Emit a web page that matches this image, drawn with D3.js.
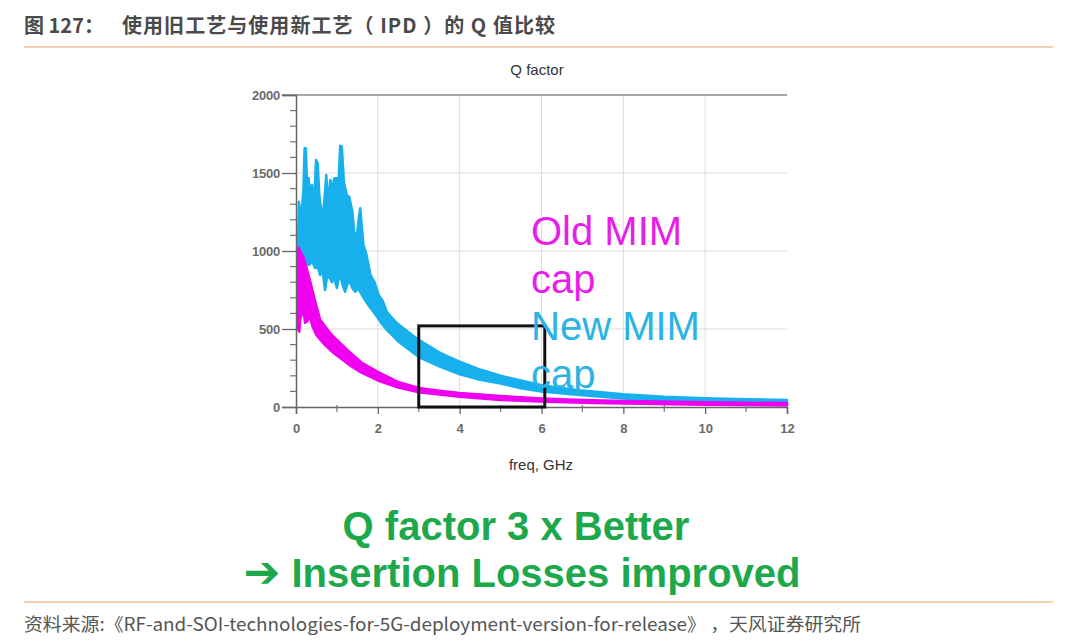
<!DOCTYPE html>
<html>
<head>
<meta charset="utf-8">
<script src="https://cdn.jsdelivr.net/npm/d3@7"></script>
<style>
  html, body { margin: 0; padding: 0; background: #ffffff; }
  svg { display: block; }
</style>
</head>
<body>
<div id="chart"></div>
<script>
// ── Data ───────────────────────────────────────────────────────────────────────

const xTicks = [0, 2, 4, 6, 8, 10, 12];
const yTicks = [0, 500, 1000, 1500, 2000];

// New MIM cap (cyan) – noisy band as [GHz, Q] envelope points
const newUpper = [
  [0.05, 1000], [0.07, 1316], [0.12, 1200], [0.18, 1380], [0.21, 1658], [0.24, 1658],
  [0.27, 1420], [0.31, 1466], [0.35, 1330], [0.39, 1423], [0.44, 1300], [0.49, 1583],
  [0.53, 1560], [0.57, 1359], [0.62, 1250], [0.66, 1231], [0.70, 1350], [0.74, 1487],
  [0.79, 1300], [0.84, 1455], [0.88, 1400], [0.94, 1466], [1.00, 1466], [1.04, 1440],
  [1.08, 1675], [1.12, 1670], [1.17, 1444], [1.24, 1359], [1.30, 1348], [1.34, 1300],
  [1.38, 1250], [1.42, 1124], [1.48, 1080], [1.53, 1200], [1.57, 1274], [1.61, 1150],
  [1.65, 1038], [1.72, 980], [1.82, 846], [1.92, 800], [2.02, 718], [2.12, 680],
  [2.22, 611], [2.35, 570], [2.5, 530], [2.65, 500], [2.8, 470], [3.0, 430],
  [3.25, 390], [3.5, 350], [3.75, 320], [4, 290], [4.5, 240], [5, 200], [5.5, 170],
  [6, 140], [7, 105], [8, 82], [9, 66], [10, 56], [11, 50], [12, 45]
];
const newLower = [
  [0.05, 1000], [0.1, 1000], [0.2, 940], [0.31, 910], [0.4, 930], [0.47, 890],
  [0.53, 900], [0.59, 846], [0.65, 870], [0.71, 750], [0.76, 840], [0.82, 827],
  [0.88, 800], [0.92, 835], [1.0, 763], [1.04, 820], [1.08, 846], [1.14, 780],
  [1.2, 739], [1.26, 790], [1.32, 803], [1.38, 760], [1.45, 739], [1.52, 760],
  [1.61, 718], [1.7, 680], [1.82, 634], [1.95, 590], [2.06, 547], [2.2, 500],
  [2.3, 474], [2.5, 420], [2.8, 360], [3.0, 320], [3.5, 260], [4, 210], [4.5, 175],
  [5, 150], [5.5, 120], [6, 100], [7, 75], [8, 55], [9, 40], [10, 30], [11, 22], [12, 15]
];

// Old MIM cap (magenta)
const oldUpper = [
  [0.05, 1000], [0.07, 1019], [0.12, 990], [0.19, 955], [0.27, 880], [0.35, 803],
  [0.47, 675], [0.59, 560], [0.76, 500], [0.9, 455], [1.0, 430], [1.3, 355],
  [1.6, 285], [2.0, 226], [2.5, 160], [3.0, 122], [3.5, 105], [4, 90], [5, 70],
  [6, 55], [7, 45], [8, 38], [10, 30], [12, 25]
];
const oldLower = [
  [0.05, 500], [0.08, 483], [0.1, 560], [0.15, 600], [0.19, 610], [0.22, 540],
  [0.28, 550], [0.33, 590], [0.4, 520], [0.5, 460], [0.7, 400], [0.9, 350],
  [1.0, 330], [1.3, 270], [1.6, 220], [2.0, 170], [2.5, 125], [3.0, 95], [4, 65],
  [5, 45], [6, 35], [7, 28], [8, 22], [10, 15], [12, 10]
];

// highlight box (GHz / Q)
const boxX = [3.0, 6.08];
const boxY = [0, 520];

const labels = [
  { text: "Old MIM", color: "#e81ee8" },
  { text: "cap",     color: "#e81ee8" },
  { text: "New MIM", color: "#2bb3e3" },
  { text: "cap",     color: "#2bb3e3" }
];

// ── Layout ─────────────────────────────────────────────────────────────────────

const W = 1080, H = 643;
const plot = { left: 296, right: 787, top: 95, bottom: 407 };

const svg = d3.select("#chart").append("svg")
  .attr("width", W).attr("height", H)
  .attr("viewBox", `0 0 ${W} ${H}`);

const x = d3.scaleLinear().domain([0, 12]).range([plot.left, plot.right]);
const y = d3.scaleLinear().domain([0, 2000]).range([plot.bottom, plot.top]);

const CJK = "'Noto Sans CJK SC', 'Noto Sans', sans-serif";
const ARIAL = "'Liberation Sans', Arial, sans-serif";

// ── Header / footer ────────────────────────────────────────────────────────────

const header = svg.append("text")
  .attr("y", 33)
  .attr("font-family", CJK).attr("font-weight", 700).attr("font-size", 20)
  .attr("fill", "#4a4a4a");
header.append("tspan").attr("x", 24).text("图 127：");
header.append("tspan").attr("x", 122)
  .attr("textLength", 433).attr("lengthAdjust", "spacing")
  .text("使用旧工艺与使用新工艺（ IPD ）的 Q 值比较");

svg.append("line")
  .attr("x1", 24).attr("x2", 1053).attr("y1", 47).attr("y2", 47)
  .attr("stroke", "#e6a36a").attr("stroke-width", 1.2);

svg.append("line")
  .attr("x1", 24).attr("x2", 1053).attr("y1", 602).attr("y2", 602)
  .attr("stroke", "#e6a36a").attr("stroke-width", 1.2);

svg.append("text")
  .attr("x", 24).attr("y", 631)
  .attr("font-family", CJK).attr("font-size", 18)
  .attr("textLength", 837).attr("lengthAdjust", "spacingAndGlyphs")
  .attr("fill", "#555555")
  .text("资料来源:《RF-and-SOI-technologies-for-5G-deployment-version-for-release》 ，天风证券研究所");

// ── Grid, axes ─────────────────────────────────────────────────────────────────

const g = svg.append("g");

g.selectAll(".vgrid").data(xTicks.filter(d => d > 0 && d < 12)).enter()
  .append("line")
  .attr("x1", d => x(d)).attr("x2", d => x(d))
  .attr("y1", plot.top).attr("y2", plot.bottom)
  .attr("stroke", "#dcdcdc").attr("stroke-width", 1);

g.selectAll(".hgrid").data(yTicks.filter(d => d > 0 && d < 2000)).enter()
  .append("line")
  .attr("x1", plot.left).attr("x2", plot.right)
  .attr("y1", d => y(d)).attr("y2", d => y(d))
  .attr("stroke", "#dcdcdc").attr("stroke-width", 1);

// top frame line
g.append("line")
  .attr("x1", plot.left - 14).attr("x2", plot.right)
  .attr("y1", y(2000)).attr("y2", y(2000))
  .attr("stroke", "#8a8a8a").attr("stroke-width", 1.3);

// ── Series ─────────────────────────────────────────────────────────────────────

// closed outline: upper envelope left→right, lower envelope right→left
const outline = d3.line()
  .x(d => x(d[0]))
  .y(d => y(d[1]))
  .curve(d3.curveLinearClosed);

function drawBand(upper, lower, color) {
  g.append("path")
    .datum(upper.concat(lower.slice().reverse()))
    .attr("d", outline)
    .attr("fill", color)
    .attr("stroke", color).attr("stroke-width", 2.5).attr("stroke-linejoin", "round");
}

drawBand(newUpper, newLower, "#18b0ec");
drawBand(oldUpper, oldLower, "#f000f0");

// axes drawn over the series
const yAxis = d3.axisLeft(y).tickValues(yTicks).tickSize(14).tickPadding(2).tickFormat(d3.format("d"));
const yAxisG = g.append("g").attr("transform", `translate(${plot.left},0)`).call(yAxis);
yAxisG.select(".domain").attr("stroke", "#666").attr("stroke-width", 1.5);
yAxisG.selectAll(".tick line").attr("stroke", "#666").attr("stroke-width", 1.3);
yAxisG.selectAll("text")
  .attr("font-family", ARIAL).attr("font-size", 13).attr("font-weight", 700)
  .attr("fill", "#6a6a6a").attr("letter-spacing", -0.2);

// minor y ticks every 100
const yMinor = d3.range(100, 2000, 100).filter(v => v % 500 !== 0);
g.selectAll(".yminor").data(yMinor).enter()
  .append("line")
  .attr("x1", plot.left - 6).attr("x2", plot.left)
  .attr("y1", d => y(d)).attr("y2", d => y(d))
  .attr("stroke", "#777").attr("stroke-width", 1.2);

const xAxis = d3.axisBottom(x).tickValues(xTicks).tickSize(7).tickPadding(10);
const xAxisG = g.append("g").attr("transform", `translate(0,${plot.bottom})`).call(xAxis);
xAxisG.select(".domain").attr("stroke", "#666").attr("stroke-width", 1.5);
xAxisG.selectAll(".tick line").attr("stroke", "#666").attr("stroke-width", 1.3);
xAxisG.selectAll("text")
  .attr("font-family", ARIAL).attr("font-size", 13).attr("font-weight", 700)
  .attr("fill", "#6a6a6a");

// minor x ticks at odd GHz
const xMinor = d3.range(1, 12, 2);
g.selectAll(".xminor").data(xMinor).enter()
  .append("line")
  .attr("x1", d => x(d)).attr("x2", d => x(d))
  .attr("y1", plot.bottom - 2).attr("y2", plot.bottom + 5)
  .attr("stroke", "#777").attr("stroke-width", 1.2);

// highlight box
g.append("rect")
  .attr("x", x(boxX[0])).attr("y", y(boxY[1]))
  .attr("width", x(boxX[1]) - x(boxX[0]))
  .attr("height", y(boxY[0]) - y(boxY[1]))
  .attr("fill", "none").attr("stroke", "#111").attr("stroke-width", 3);

// titles
g.append("text")
  .attr("x", 537).attr("y", 75)
  .attr("text-anchor", "middle")
  .attr("font-family", ARIAL).attr("font-size", 15).attr("fill", "#333")
  .text("Q factor");

g.append("text")
  .attr("x", 541).attr("y", 470)
  .attr("text-anchor", "middle")
  .attr("font-family", ARIAL).attr("font-size", 15).attr("fill", "#333")
  .text("freq, GHz");

// series labels
g.selectAll(".serieslabel").data(labels).enter()
  .append("text")
  .attr("x", 531)
  .attr("y", (d, i) => 245 + i * 47.5)
  .attr("font-family", ARIAL).attr("font-size", 40)
  .attr("fill", d => d.color)
  .text(d => d.text);

// ── Bottom message ─────────────────────────────────────────────────────────────

svg.append("text")
  .attr("x", 516).attr("y", 540)
  .attr("text-anchor", "middle")
  .attr("font-family", ARIAL).attr("font-weight", 700).attr("font-size", 40)
  .attr("fill", "#1ea84c")
  .text("Q factor 3 x Better");

const msg = svg.append("text")
  .attr("x", 522).attr("y", 587)
  .attr("text-anchor", "middle")
  .attr("font-family", ARIAL).attr("font-weight", 700).attr("font-size", 40)
  .attr("fill", "#1ea84c");
msg.append("tspan").attr("font-family", "'DejaVu Sans', sans-serif").attr("font-size", 44).text("➔");
msg.append("tspan").text(" Insertion Losses improved");
</script>
</body>
</html>
